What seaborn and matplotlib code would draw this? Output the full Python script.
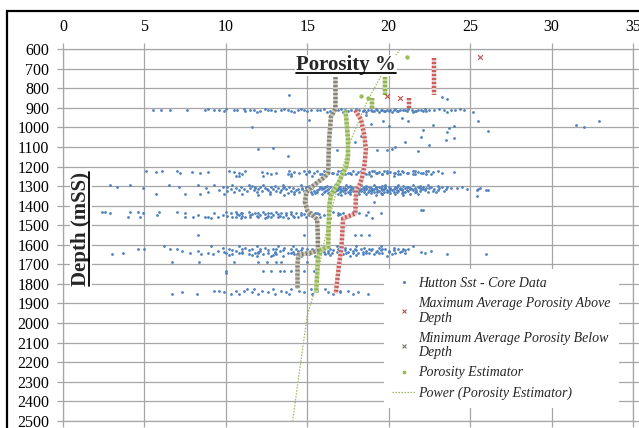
import numpy as np
import pandas as pd
import matplotlib
matplotlib.use("Agg")
import matplotlib.pyplot as plt
import seaborn as sns
from matplotlib.lines import Line2D
from matplotlib.patches import Rectangle

# ---------------- data (porosity %, depth mSS) ----------------
# Hutton Sst core data, grouped in depth rows: (depth, [porosity values])
band_912 = [
    (903, [8.9, 10.0, 11.1, 12.4, 13.6, 14.6, 16.0, 17.1, 18.0, 19.2, 20.4, 21.2, 22.2, 23.1, 24.4]),
    (908, [5.5, 6.0, 8.7, 9.6, 10.5, 11.5, 12.8, 13.8, 15.2, 15.6, 16.6, 17.7, 18.5, 18.9, 19.5, 19.9, 20.1, 20.9, 21.8, 22.5, 23.8, 24.6]),
    (912, [6.6, 7.6, 9.3, 10.7, 11.7, 12.6, 13.4, 14.4, 14.8, 15.8, 16.9, 17.3, 18.2, 18.7, 19.3, 19.6, 20.3, 20.7, 21.0, 21.4, 22.0, 22.8, 23.4, 24.1]),
    (915, [19.1, 19.7, 20.5, 21.1, 21.7, 22.1]),
    (917, [9.9, 11.2, 12.1, 13.0, 14.0, 15.0, 16.4, 17.5, 17.9, 18.4, 19.0, 19.8, 20.0, 20.6, 21.6, 22.3]),
    (923, [11.9, 14.2, 16.2, 17.2, 18.6, 19.4, 20.2, 21.5, 23.6]),
]
band_1234 = [
    (1222, [5.1, 6.1, 7.0, 10.2, 11.2, 13.9, 14.8, 15.6, 16.9, 17.8, 19.0, 19.7, 20.6, 21.5, 22.4, 23.0]),
    (1225, [15.1, 16.0, 17.1, 18.3, 19.1, 19.9, 20.8, 21.6, 22.3]),
    (1228, [5.7, 7.9, 8.9, 10.5, 12.2, 14.2, 15.1, 16.2, 17.2, 18.1, 18.8, 19.4, 20.1, 20.9, 21.8, 22.7, 24.0]),
    (1231, [16.6, 17.6, 18.5, 19.3, 20.3, 21.1, 22.0]),
    (1234, [7.2, 8.4, 10.8, 12.5, 13.1, 14.5, 15.4, 16.5, 17.5, 18.4, 19.2, 19.9, 20.4, 21.2, 22.1, 23.3]),
    (1237, [14.0, 15.8, 17.3, 18.0, 18.8, 19.6, 20.6, 21.5, 22.3]),
    (1240, [11.0, 12.8, 13.8, 14.9, 15.9, 16.8, 17.7, 18.6, 19.6, 20.7, 21.6, 22.6]),
    (1248, [10.6, 10.8, 12.3, 14.0, 15.3, 16.1, 17.0, 18.9, 20.3]),
]
band_1315 = [
    (1296, [2.9, 4.1, 6.5, 8.3, 9.3, 10.4, 11.4, 12.3, 13.5, 14.6, 15.5, 16.7, 17.4, 18.3, 19.1, 19.8, 20.6, 21.5, 22.4]),
    (1299, [11.6, 13.0, 15.1, 16.2, 17.6, 18.6, 19.6, 20.9, 21.9, 23.0]),
    (1302, [3.3, 7.1, 9.8, 10.9, 11.8, 12.8, 13.9, 14.9, 15.8, 16.4, 17.0, 17.7, 18.2, 18.8, 19.4, 20.0, 20.5, 21.1, 21.8, 22.6, 23.6, 24.5]),
    (1305, [10.1, 12.1, 13.6, 15.0, 16.1, 16.9, 17.5, 18.5, 19.2, 19.8, 20.4, 21.2, 22.1, 23.3]),
    (1308, [4.9, 8.8, 10.6, 11.5, 12.4, 13.2, 14.1, 14.7, 15.3, 16.0, 16.6, 17.2, 17.8, 18.4, 18.9, 19.5, 20.1, 20.7, 21.3, 21.9, 22.5, 23.1, 24.2, 25.6]),
    (1311, [11.8, 13.5, 14.9, 15.9, 16.8, 17.3, 17.9, 18.6, 19.2, 19.8, 20.4, 21.0, 21.6, 22.3, 23.8]),
    (1314, [10.3, 11.1, 12.0, 12.9, 13.7, 14.4, 15.1, 15.7, 16.3, 16.9, 17.4, 18.0, 18.6, 19.1, 19.7, 20.3, 20.8, 21.4, 22.0, 22.8, 23.5, 24.8]),
    (1316, [12.5, 14.7, 15.9, 17.0, 17.7, 18.3, 19.0, 19.6, 20.1, 20.7, 21.3, 22.1]),
    (1318, [16.5, 17.1, 17.6, 18.2, 18.8, 19.3, 19.9, 20.5, 21.1, 21.7]),
    (1322, [9.6, 10.8, 11.7, 12.6, 13.4, 14.3, 15.0, 15.6, 16.2, 16.8, 17.3, 17.9, 18.5, 19.0, 19.6, 20.2, 20.8, 21.5, 22.2, 23.0, 25.4, 26.0]),
    (1326, [10.1, 11.3, 12.2, 13.1, 14.0, 14.8, 15.4, 16.1, 16.7, 17.2, 17.8, 18.3, 18.9, 19.4, 20.0, 20.6, 21.2, 21.9, 22.7, 23.4]),
    (1329, [12.7, 14.2, 15.6, 16.4, 17.0, 17.6, 18.0, 18.5, 19.1, 19.7, 20.3, 20.9, 21.6, 22.9]),
    (1332, [8.9, 10.5, 11.9, 13.3, 14.5, 15.2, 16.0, 16.6, 17.5, 18.1, 18.7, 19.3, 19.9, 20.5, 21.0, 21.7, 22.4]),
    (1335, [13.8, 15.5, 16.3, 17.3, 17.9, 18.9, 19.5, 20.1, 20.8]),
    (1338, [5.7, 7.5, 8.4, 9.9, 11.0, 12.7, 14.2, 15.9, 16.9, 17.6, 18.6, 19.6, 20.4, 21.3]),
    (1342, [15.3, 16.5, 18.2, 19.6, 21.8]),
    (1346, [12.0, 13.6, 17.1, 18.0, 19.2, 20.9]),
]
band_1448 = [
    (1432, [2.4, 2.6, 4.1, 4.6, 5.9, 7.0, 10.0, 10.6, 11.4, 12.3, 13.1, 14.0, 15.2, 16.6, 17.8]),
    (1436, [10.9, 12.0, 12.8, 13.7, 14.6, 15.6, 16.9]),
    (1440, [2.9, 4.9, 7.5, 9.3, 10.3, 11.0, 11.8, 12.6, 13.4, 14.3, 15.5, 16.3, 17.2, 18.2, 19.5]),
    (1444, [10.7, 11.6, 12.4, 13.2, 14.0, 14.8, 15.7, 17.0]),
    (1448, [5.8, 8.3, 9.8, 10.8, 11.5, 12.1, 12.9, 13.7, 14.6, 15.1, 16.0, 16.9, 18.6]),
    (1452, [10.1, 11.0, 11.9, 12.6, 13.3, 14.1, 15.3, 16.3]),
    (1456, [4.0, 4.7, 7.5, 8.0, 8.7, 9.5, 10.4, 11.2, 12.0, 12.8, 13.5, 14.2, 14.9, 15.8, 17.5]),
    (1460, [8.9, 10.6, 11.5, 12.5, 13.2, 14.4]),
    (1464, [9.1, 10.9, 12.4, 13.8, 16.4, 19.0]),
]
band_1636 = [
    (1608, [6.2, 9.1, 10.8, 11.9, 13.2, 14.1, 16.8, 18.0, 19.5, 21.5]),
    (1616, [9.8, 11.2, 12.4, 13.6, 14.7, 15.6, 17.3, 18.5, 19.4, 20.3]),
    (1620, [11.0, 12.1, 13.1, 14.3, 15.3, 16.4, 17.1, 17.9, 18.8, 19.6, 20.9]),
    (1624, [4.6, 5.0, 6.6, 7.0, 10.2, 11.6, 12.9, 14.0, 15.0, 16.0, 16.9, 17.6, 18.3, 19.0, 19.8, 20.6, 21.2]),
    (1628, [10.4, 11.4, 12.6, 13.5, 14.6, 15.6, 16.6, 17.3, 18.0, 18.9, 19.5, 20.3, 21.0]),
    (1632, [7.3, 8.3, 9.5, 10.6, 12.1, 13.3, 14.4, 15.3, 16.3, 17.0, 17.8, 18.6, 19.3, 20.0, 20.8, 22.6]),
    (1636, [9.9, 11.0, 12.0, 13.0, 14.1, 15.0, 16.0, 16.8, 17.5, 18.4, 19.2, 20.0, 20.7, 22.0]),
    (1640, [3.7, 7.8, 8.9, 10.0, 11.0, 11.8, 12.6, 13.8, 14.8, 15.8, 16.5, 17.4, 18.1, 18.8, 19.6, 20.4, 21.0, 22.2]),
    (1644, [10.8, 12.0, 13.0, 14.0, 15.2, 16.3, 17.0, 17.8, 18.6, 19.4]),
    (1648, [3.0, 8.5, 9.2, 10.4, 11.4, 12.3, 13.1, 14.2, 15.1, 16.1, 17.2, 18.4, 19.1, 20.2, 23.6, 26.0]),
    (1652, [10.2, 11.6, 12.9, 14.5, 16.4, 18.0]),
    (1656, [11.9, 12.8, 13.5, 14.6, 15.5, 17.6, 19.9]),
    (1690, [6.7, 8.35, 10.5, 12.0, 12.5, 13.1, 13.4, 14.4, 15.0]),
    (1736, [10.0, 12.3, 12.8, 13.3, 13.6, 14.0, 14.4, 14.8, 15.4]),
]
band_1844 = [
    (1828, [11.3, 11.7, 12.9, 14.0, 15.2, 16.1]),
    (1836, [9.3, 9.6, 10.6, 11.1, 12.2, 13.4, 14.5, 15.6, 17.0, 17.5]),
    (1844, [7.3, 9.9, 11.6, 12.6, 13.7, 14.8, 16.3, 17.0, 18.1]),
    (1852, [6.7, 8.2, 10.3, 10.8, 12.0, 13.0, 13.9, 15.3, 16.6, 17.8, 18.7]),
]
core_scatter_poro = [13.9, 23.3, 23.6, 15.1, 11.6, 25.2, 25.5, 26.1, 31.5, 32.0, 32.9, 19.65, 20.0, 20.8,
                     21.2, 22.1, 22.0, 22.7, 23.7, 24.0, 23.6, 23.5, 24.0, 22.5, 21.0, 20.4, 20.2, 19.9,
                     19.25, 21.8, 12.0, 12.9, 13.8, 16.8, 16.3, 17.9, 18.3, 18.9, 18.6, 19.1, 22.1, 18.7,
                     8.3, 14.8, 17.9, 18.3, 18.8, 10.0, 25.5, 26.1, 22.0, 25.4]
core_scatter_depth = [836, 846, 856, 960, 997, 922, 965, 1016, 987, 999, 967, 965, 991, 953,
                      965, 1013, 1048, 987, 1001, 992, 1021, 1064, 1055, 1090, 1073, 1098, 1111, 1115,
                      1117, 1119, 1110, 1104, 1148, 1117, 1122, 1075, 1041, 981, 934, 1380, 1422, 1430,
                      1552, 1552, 1552, 1552, 1552, 1743, 1316, 1320, 1422, 1350]

# Maximum Average Porosity Above Depth (segments + isolated points)
max_above_seg = [0, 0, 1, 1, 2, 2, 2, 2, 2, 2, 2, 2, 2, 2, 2, 2, 2]
max_above_poro = [22.8, 22.8, 21.25, 21.25, 17.95, 18.3, 18.5, 18.6, 18.5, 18.35, 18.2, 18.0, 17.95, 17.2, 17.1, 16.95, 16.75]
max_above_depth = [645, 834, 851, 902, 912, 960, 1040, 1115, 1200, 1260, 1295, 1320, 1440, 1465, 1615, 1700, 1850]
max_above_pts_poro = [25.6, 20.7, 19.9]
max_above_pts_depth = [640, 847, 838]

# Minimum Average Porosity Below Depth
min_below_poro = [16.73, 16.73, 16.45, 16.34, 16.28, 16.07, 15.4, 14.95, 14.85, 15.0, 15.6, 15.65, 15.65, 15.3, 14.45, 14.4, 14.4]
min_below_depth = [742, 905, 945, 1064, 1233, 1253, 1295, 1330, 1380, 1425, 1470, 1550, 1627, 1640, 1652, 1700, 1825]

# Porosity Estimator
estimator_seg = [0, 0, 1, 1, 2, 2, 2, 2, 2, 2, 2, 2, 2, 2, 2, 2, 2, 2]
estimator_poro = [19.8, 19.8, 18.98, 18.98, 17.35, 17.4, 17.5, 17.5, 17.4, 17.15, 17.0, 16.8, 16.45, 16.35, 16.28, 15.8, 15.66, 15.55]
estimator_depth = [740, 834, 850, 902, 912, 960, 1060, 1150, 1200, 1240, 1270, 1300, 1345, 1400, 1610, 1627, 1660, 1845]
estimator_pts_poro = [21.15, 18.3, 18.7]
estimator_pts_depth = [638, 837, 847]

# Power trendline of the estimator
trend_poro = [20.7, 19.5, 18.6, 17.6, 17.2, 16.3, 15.4, 15.0, 14.6, 14.1]
trend_depth = [600, 740, 880, 1080, 1200, 1480, 1850, 1960, 2200, 2500]

x_ticks = [0, 5, 10, 15, 20, 25, 30, 35]
y_ticks = list(range(600, 2501, 100))

# ---------------- styling ----------------
sns.set_theme(style="white")
plt.rcParams["font.family"] = ["Liberation Serif", "DejaVu Serif"]

BLUE = "#4F81BD"
GRID = "#A6A6A6"

fig = plt.figure(figsize=(6.39, 4.28), dpi=100)
ax = fig.add_axes([63 / 639, 1 - 420.7 / 428, 570 / 639, 371.4 / 428])

# core data frame
rows = []
for band in (band_912, band_1234, band_1315, band_1448, band_1636, band_1844):
    for d, xs in band:
        for x in xs:
            rows.append((x, d))
core = pd.DataFrame(rows, columns=["poro", "depth"])
core = pd.concat([core, pd.DataFrame({"poro": core_scatter_poro, "depth": core_scatter_depth})],
                 ignore_index=True)

# trendline
sns.lineplot(x=trend_poro, y=trend_depth, sort=False, estimator=None, ax=ax,
             color="#9BBB59", lw=0.9, linestyle=(0, (1.2, 1.2)), zorder=2)

sns.scatterplot(data=core, x="poro", y="depth", ax=ax, color=BLUE, s=4, marker="o",
                linewidth=0, zorder=3)


def thick(poro, depth, seg, light, dark):
    df = pd.DataFrame({"poro": poro, "depth": depth, "seg": seg})
    sns.lineplot(data=df, x="poro", y="depth", units="seg", estimator=None, sort=False,
                 ax=ax, color=light, lw=3.2, zorder=4, solid_capstyle="butt")
    sns.lineplot(data=df, x="poro", y="depth", units="seg", estimator=None, sort=False,
                 ax=ax, color=dark, lw=3.2, zorder=5, linestyle=(0, (0.45, 0.45)))


thick(min_below_poro, min_below_depth, [0] * len(min_below_poro), "#CFCBBB", "#85827A")
thick(estimator_poro, estimator_depth, estimator_seg, "#C3D69B", "#93B655")
thick(max_above_poro, max_above_depth, max_above_seg, "#EDCBCA", "#C9605D")

sns.scatterplot(x=max_above_pts_poro, y=max_above_pts_depth, ax=ax, marker="x", s=12,
                color="#C0504D", linewidth=0.8, zorder=6)
sns.scatterplot(x=estimator_pts_poro, y=estimator_pts_depth, ax=ax, marker="o", s=10,
                color="#9BBB59", linewidth=0, zorder=6)

# axes
ax.set_xlim(0, 35)
ax.set_ylim(2500, 600)
ax.set_xticks(x_ticks)
ax.set_yticks(y_ticks)
ax.set_xlabel("")
ax.set_ylabel("")
ax.grid(True, color=GRID, lw=0.9)
ax.set_axisbelow(True)
for sp in ax.spines.values():
    sp.set_color(GRID)
    sp.set_linewidth(0.9)
ax.xaxis.set_ticks_position("both")
ax.yaxis.set_ticks_position("both")
ax.tick_params(axis="x", direction="out", length=4, width=0.9, color=GRID, pad=6,
               labeltop=True, labelbottom=False, labelsize=11.5, labelcolor="black")
ax.tick_params(axis="y", direction="out", length=4.3, width=0.9, color=GRID, pad=5.5,
               labelleft=True, labelright=False, labelsize=11.5, labelcolor="black")

# title & y label (underlined)
title = ax.text(0.4965, 0.957, "Porosity %", transform=ax.transAxes, ha="center", va="center",
                fontsize=15, fontweight="bold", zorder=7,
                bbox=dict(facecolor="white", edgecolor="none", pad=0.5))
ylab = ax.text(0.0316, 0.516, "Depth (mSS)", transform=ax.transAxes, ha="center", va="center",
               rotation=90, fontsize=15, fontweight="bold", zorder=7,
               bbox=dict(facecolor="white", edgecolor="none", pad=0.5))

# legend
handles = [
    Line2D([], [], ls="none", marker="o", ms=2.2, mec="none", color=BLUE),
    Line2D([], [], ls="none", marker="x", ms=3.5, mew=0.8, color="#C0504D"),
    Line2D([], [], ls="none", marker="x", ms=3.5, mew=0.8, color="#77746A"),
    Line2D([], [], ls="none", marker="o", ms=2.8, mec="none", color="#9BBB59"),
    Line2D([], [], color="#9BBB59", lw=0.9, ls=(0, (1.2, 1.2))),
]
labels = ["Hutton Sst - Core Data",
          "Maximum Average Porosity Above\nDepth",
          "Minimum Average Porosity Below\nDepth",
          "Porosity Estimator",
          "Power (Porosity Estimator)"]
leg = ax.legend(handles, labels, loc="lower right", bbox_to_anchor=(0.9877, 0.015),
                frameon=True, fancybox=False, framealpha=1, facecolor="white",
                edgecolor="none", prop={"style": "italic", "size": 10,
                                        "family": "Liberation Serif"},
                borderpad=0.6, labelspacing=0.5, handlelength=1.7, handletextpad=0.2)
for t in leg.get_texts():
    t.set_linespacing(1.18)
leg.set_zorder(8)

# chart-area border
fig.add_artist(Rectangle((7 / 639, -0.1), 1.2, 1.1 - 11 / 428, transform=fig.transFigure,
                         fill=False, ec="black", lw=1.6))

# underline title and y label
fig.canvas.draw()
r = fig.canvas.get_renderer()
W, H = fig.bbox.width, fig.bbox.height
bb = title.get_window_extent(r)
yline = bb.y0 + 2.0
fig.add_artist(Line2D([bb.x0 / W, bb.x1 / W], [yline / H, yline / H], color="black", lw=1.3,
                      transform=fig.transFigure, zorder=10))
bb = ylab.get_window_extent(r)
xline = bb.x1 - 2.0
fig.add_artist(Line2D([xline / W, xline / W], [bb.y0 / H, bb.y1 / H], color="black", lw=1.3,
                      transform=fig.transFigure, zorder=10))

fig.savefig("out.png", dpi=100)
